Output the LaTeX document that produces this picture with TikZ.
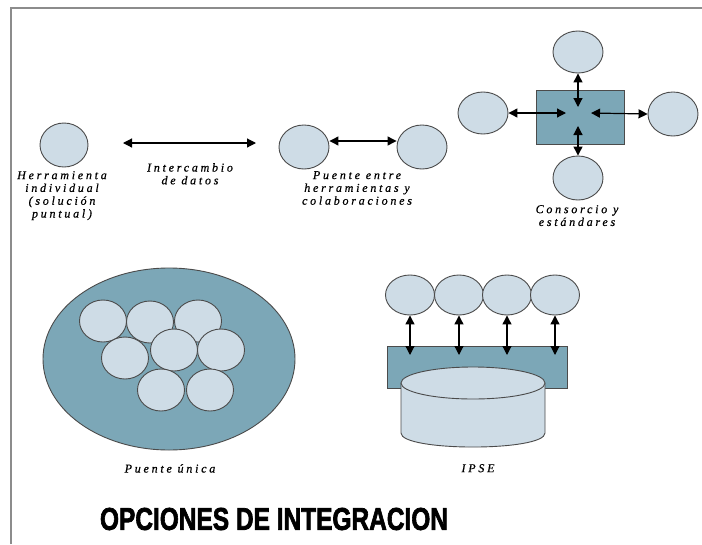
\documentclass[tikz,border=0pt]{standalone}
\usepackage{fontspec}
\usepackage{graphicx}
\setmainfont{Liberation Serif}
\newfontfamily\labfont[LetterSpace=23,FakeBold=0.6]{Liberation Serif}
\newfontfamily\titlefont[FakeBold=2.5]{Liberation Sans}
\usetikzlibrary{shapes.geometric,arrows.meta}
\definecolor{lightfill}{RGB}{206,220,230}
\definecolor{darkfill}{RGB}{124,167,183}
\definecolor{edge}{RGB}{75,75,75}
\definecolor{framegray}{RGB}{140,140,140}
\tikzset{
  bub/.style={ellipse,draw=edge,line width=0.9pt,fill=lightfill,inner sep=0pt,minimum width=#1},
  bub/.default=50pt,
  panel/.style={rectangle,draw=edge,line width=0.9pt,fill=darkfill,inner sep=0pt},
  lab/.style={font=\labfont\itshape\fontsize{12}{12.8}\selectfont,align=center,inner sep=0pt,anchor=north},
  dbl/.style={{Triangle[length=9pt,width=9pt]}-{Triangle[length=9pt,width=9pt]},line width=1.2pt,black},
}
\begin{document}
\begin{tikzpicture}[x=1pt,y=-1pt]
\useasboundingbox (0,0) rectangle (702,544);
% frame
\draw[framegray,line width=2pt] (11,544) -- (11,8) -- (702,8);

% 1: herramienta individual
\node[bub,minimum width=48pt,minimum height=44pt] (h1) at (64,145) {};
\node[lab] (h1l) at (62,171) {Herramienta\\individual\\(solución\\puntual)};

% 2: intercambio
\coordinate (ia) at (123,143);
\coordinate (ib) at (256,143);
\draw[dbl] (ia) -- (ib);
\node[lab] (ial) at (190,163) {Intercambio\\de datos};

% 3: puente entre herramientas
\node[bub,minimum width=50pt,minimum height=44pt] (p1) at (304,147) {};
\node[bub,minimum width=50pt,minimum height=44pt] (p2) at (422,147) {};
\draw[dbl] ([yshift=6pt]p1.east) -- ([yshift=6pt]p2.west);
\node[lab] (pl) at (357,171) {Puente entre\\herramientas y\\colaboraciones};

% 4: consorcio
\node[panel,minimum width=88pt,minimum height=54pt] (cr) at (580,117) {};
\node[bub,minimum width=50pt,minimum height=42pt] (ct) at (578,52) {};
\node[bub,minimum width=50pt,minimum height=44pt] (cb) at (578,178) {};
\node[bub,minimum width=50pt,minimum height=42pt] (cl) at (483,113) {};
\node[bub,minimum width=50pt,minimum height=44pt] (cR) at (673,114) {};
\coordinate (cti) at (578,107);
\coordinate (cbi) at (578,126);
\coordinate (cli) at (566,113);
\coordinate (cri) at (591,113);
\draw[dbl] (ct.south) -- (cti);
\draw[dbl] (cbi) -- (cb.north);
\draw[dbl] (cl.east) -- (cli);
\draw[dbl] (cri) -- (cR.west);
\node[lab] (cll) at (577,205) {Consorcio y\\estándares};

% 5: puente unica
\node[ellipse,draw=edge,line width=0.9pt,fill=darkfill,inner sep=0pt,minimum width=252pt,minimum height=182pt] (big) at (169,359) {};
\foreach \n/\x/\y in {u1/103/321, u2/150/322, u3/198/321, u4/125/358, u5/174/350, u6/221/350, u7/161/390, u8/210/390}
  \node[bub,minimum width=47pt,minimum height=42pt] (\n) at (\x,\y) {};
\node[lab] (bl) at (170,464) {Puente única};

% 6: IPSE
\node[panel,minimum width=180pt,minimum height=42pt] (ir) at (477,367) {};
\path[fill=lightfill] (401,383) -- (401,433) .. controls (401,451.7) and (545,451.7) .. (545,433) -- (545,383) -- cycle;
\draw[edge,line width=0.9pt] (401,383) -- (401,433) .. controls (401,451.7) and (545,451.7) .. (545,433) -- (545,383);
\node[ellipse,draw=edge,line width=0.9pt,fill=lightfill,inner sep=0pt,minimum width=144pt,minimum height=32pt] (top) at (473,383) {};
\foreach \n/\x in {s1/410, s2/459, s3/507, s4/555}{
  \node[bub,minimum width=49pt,minimum height=40pt] (\n) at (\x,295) {};
  \coordinate (\n d) at (\x,355);
  \draw[dbl] (\n.south) -- (\n d);
}
\node[lab] (il) at (478,464) {IPSE};

% title
\node[inner sep=0pt] (title) at (274,519) {\resizebox{348pt}{22pt}{\titlefont\bfseries OPCIONES DE INTEGRACION}};
\end{tikzpicture}
\end{document}
